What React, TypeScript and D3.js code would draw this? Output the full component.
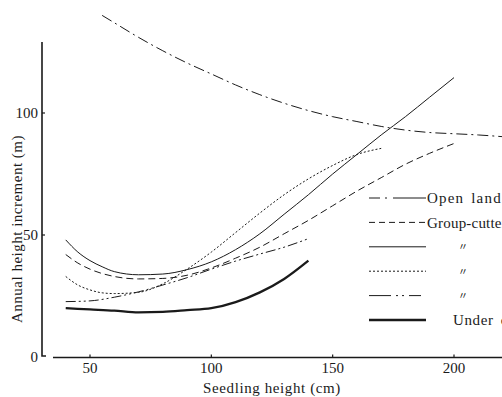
import React from "react";
import * as d3 from "d3";

// values: seedling height (cm) -> annual height increment
const openLandX = [55, 60, 70, 80, 90, 100, 110, 120, 130, 140, 150, 160, 170, 180, 190, 200, 210, 220];
const openLandY = [140, 137, 131, 125.5, 120.5, 116, 111.5, 107.5, 104, 101, 98.5, 96.5, 94.5, 93, 92, 91.5, 91, 90.3];

const solidX = [40, 45, 50, 55, 60, 70, 80, 90, 100, 110, 120, 130, 140, 150, 160, 170, 180, 190, 200];
const solidY = [48, 43, 39.5, 37, 35, 33.7, 34, 35.8, 39, 44, 50.5, 58.5, 66.5, 75, 83, 91, 98.5, 106.5, 114.5];

const dashedX = [40, 45, 50, 60, 70, 80, 90, 100, 110, 120, 130, 140, 150, 160, 170, 180, 190, 200];
const dashedY = [42, 38.5, 36, 33, 32, 32.2, 33.5, 36.5, 40.5, 45, 50.5, 56, 62, 68, 73.5, 79, 83.5, 87.5];

const dottedX = [40, 45, 50, 55, 60, 70, 80, 90, 100, 110, 120, 130, 140, 150, 160, 170];
const dottedY = [33, 29.5, 27.5, 26.3, 26, 26.5, 30, 36, 43, 51, 59, 66.5, 73, 78.5, 83, 85.5];

const dashDotX = [40, 50, 60, 70, 80, 90, 100, 110, 120, 130, 140];
const dashDotY = [22.7, 23, 24.5, 26.7, 29.5, 32.5, 36, 39.3, 42.2, 45, 48.5];

const canopyX = [40, 50, 60, 70, 80, 90, 100, 110, 120, 130, 140];
const canopyY = [20, 19.5, 19, 18.3, 18.5, 19.2, 20, 22.5, 26.5, 32, 39.5];

const xTicks = [50, 100, 150, 200];
const yTicks = [0, 50, 100];

const legendLabels = ["Open land", "Group-cutter", "〃", "〃", "〃", "Under canopy"];

const W = 502;
const H = 397;
const INK = "#1a1a1a";
const FONT = "'Liberation Serif', 'DejaVu Serif', 'Noto Sans CJK JP', serif";

const x = d3.scaleLinear().domain([50, 200]).range([90, 454]);
const y = d3.scaleLinear().domain([0, 100]).range([357, 113]);

const zip = (xs: number[], ys: number[]) => xs.map((v, i) => [v, ys[i]] as [number, number]);

const line = d3
  .line<[number, number]>()
  .x((d) => x(d[0]))
  .y((d) => y(d[1]))
  .curve(d3.curveMonotoneX);

const series = [
  { data: zip(openLandX, openLandY), dash: "11 4 2 4", width: 1 },
  { data: zip(dashedX, dashedY), dash: "7 4", width: 1 },
  { data: zip(solidX, solidY), dash: "none", width: 1 },
  { data: zip(dottedX, dottedY), dash: "2 2", width: 1 },
  { data: zip(dashDotX, dashDotY), dash: "10 3 2 3 2 3", width: 1 },
  { data: zip(canopyX, canopyY), dash: "none", width: 2.3 },
];

const legendDash = ["11 5 2 6 40", "6 4", "none", "2 2", "22 5 2 4 2 5 12", "none"];
const legendSpacing = [1.2, 0.2, 0, 0, 0, 0.6];

export default function App() {
  const legX0 = 369;
  const legX1 = 426;
  const legY0 = 198;
  const legStep = 24.4;

  return (
    <svg
      width={W}
      height={H}
      style={{ position: "absolute", left: 0, top: 0, background: "#fff" }}
      fontFamily={FONT}
    >
      {/* axes */}
      <path d={`M42,42V356H46`} fill="none" stroke={INK} strokeWidth={1.6} />
      <line x1={53} x2={W} y1={357.5} y2={357.5} stroke={INK} strokeWidth={1.6} />
      {yTicks.filter((t) => t > 0).map((t) => (
        <line key={t} x1={42} x2={45} y1={y(t)} y2={y(t)} stroke={INK} strokeWidth={1.2} />
      ))}
      {yTicks.map((t) => (
        <text key={t} x={38} y={y(t)} dy="0.35em" textAnchor="end" fontSize={15} fill={INK}>
          {t}
        </text>
      ))}
      {xTicks.map((t) => (
        <g key={t}>
          <line x1={x(t)} x2={x(t)} y1={357} y2={354.5} stroke={INK} strokeWidth={1.2} />
          <text x={x(t)} y={373} textAnchor="middle" fontSize={15} fill={INK}>
            {t}
          </text>
        </g>
      ))}
      <text x={272} y={393} textAnchor="middle" fontSize={15} letterSpacing={0.6} fill={INK}>
        Seedling height (cm)
      </text>
      <text
        transform="translate(22,229) rotate(-90)"
        textAnchor="middle"
        fontSize={15}
        letterSpacing={0.5}
        fill={INK}
      >
        Annual height increment (m)
      </text>

      {/* curves */}
      {series.map((s, i) => (
        <path
          key={i}
          d={line(s.data) || ""}
          fill="none"
          stroke={INK}
          strokeWidth={s.width}
          strokeDasharray={s.dash}
        />
      ))}

      {/* legend */}
      {legendLabels.map((lab, i) => {
        const ly = legY0 + i * legStep;
        const s = series[i];
        const isDitto = lab === "〃";
        return (
          <g key={i}>
            <line
              x1={legX0}
              x2={legX1}
              y1={ly}
              y2={ly}
              stroke={INK}
              strokeWidth={s.width}
              strokeDasharray={legendDash[i]}
            />
            <text
              x={isDitto ? 458 : i === 5 ? 453 : legX1 + 1}
              y={ly}
              dy="0.35em"
              fontSize={isDitto ? 10 : 15}
              letterSpacing={legendSpacing[i]}
              wordSpacing={i === 5 ? 3 : i === 0 ? 2 : 0}
              fill={INK}
            >
              {lab}
            </text>
          </g>
        );
      })}
    </svg>
  );
}
